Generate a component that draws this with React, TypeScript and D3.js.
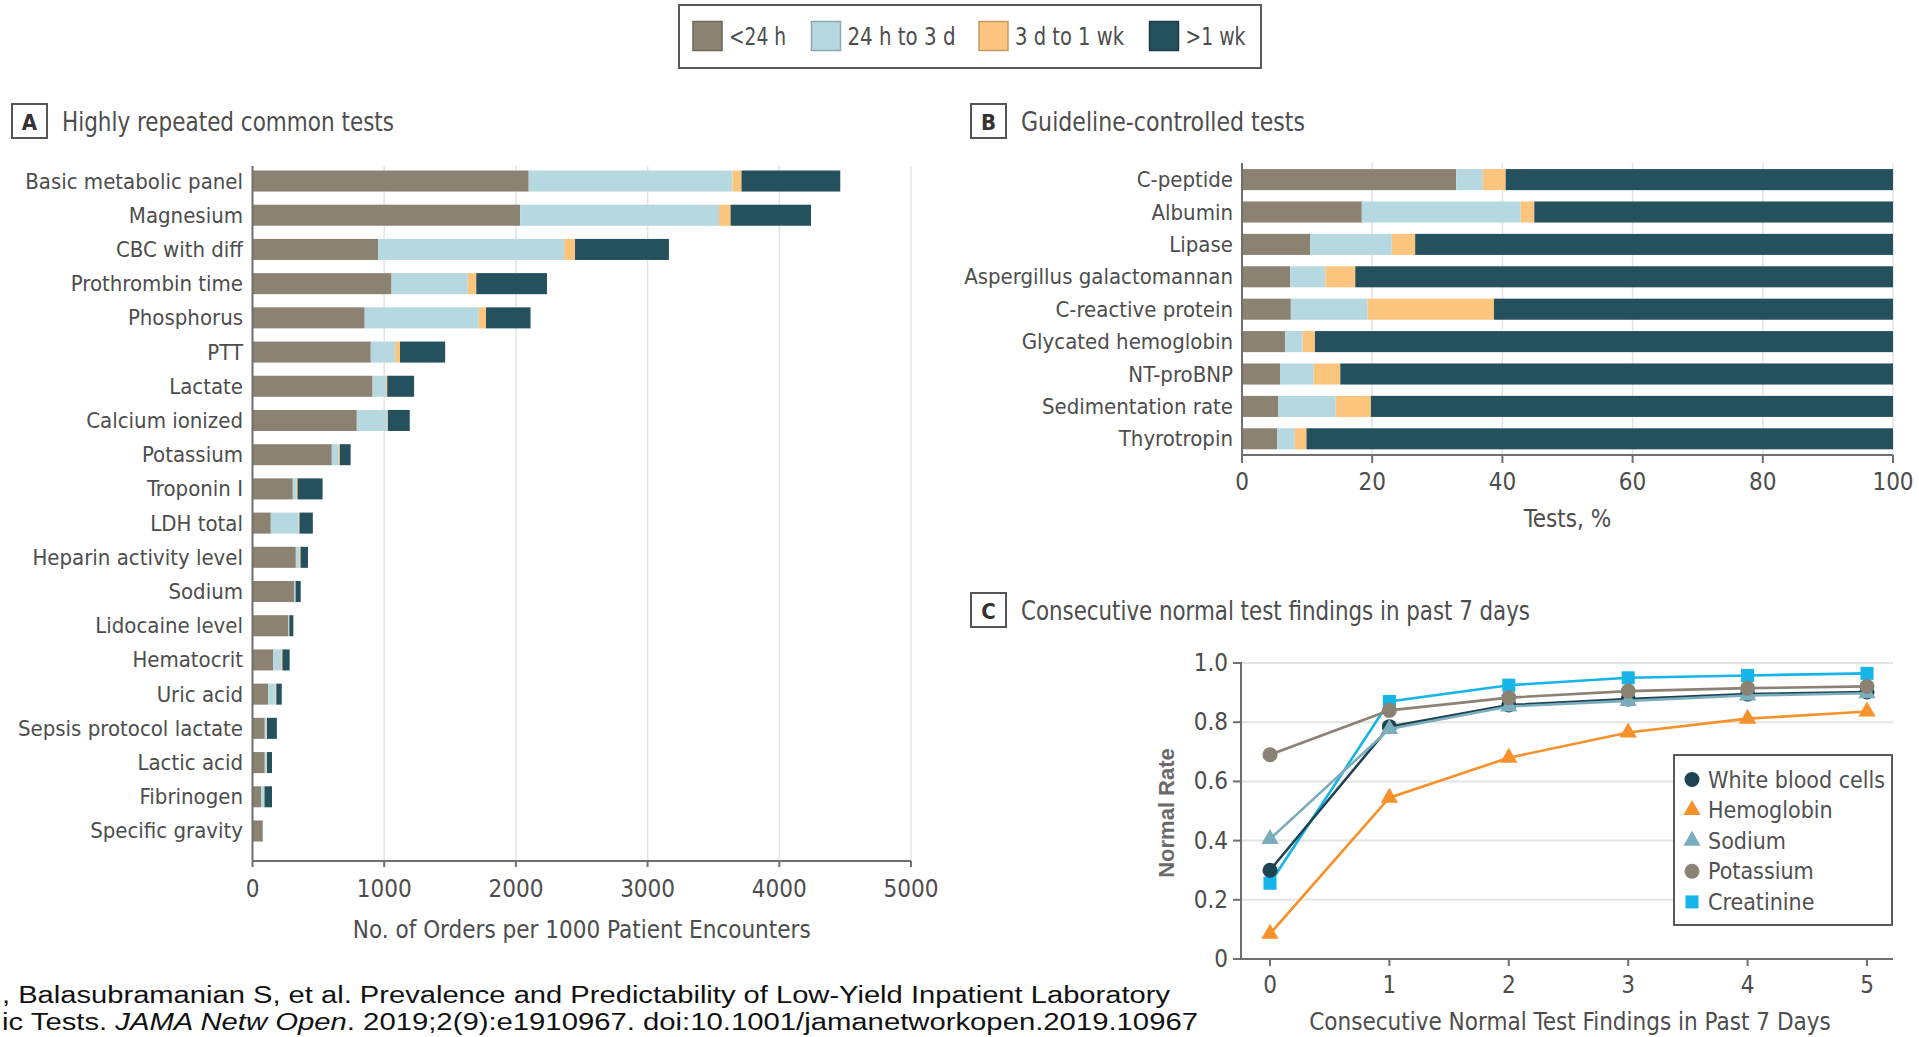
import React from 'react';
import * as d3 from 'd3';

// legend / stack keys
const durationKeys = ['<24 h', '24 h to 3 d', '3 d to 1 wk', '>1 wk'];
const durationColors = ['#8b8271', '#b6d8e0', '#fcc57e', '#25505e'];

// Panel A - orders per 1000 patient encounters, split by repeat interval
const commonTests = [
  'Basic metabolic panel', 'Magnesium', 'CBC with diff', 'Prothrombin time', 'Phosphorus',
  'PTT', 'Lactate', 'Calcium ionized', 'Potassium', 'Troponin I', 'LDH total',
  'Heparin activity level', 'Sodium', 'Lidocaine level', 'Hematocrit', 'Uric acid',
  'Sepsis protocol lactate', 'Lactic acid', 'Fibrinogen', 'Specific gravity',
];
const commonUnder24h = [2097, 2032, 954, 1056, 852, 898, 912, 792, 602, 306, 139, 329, 315, 273, 157, 120, 93, 93, 65, 76];
const common24hTo3d = [1547, 1510, 1412, 578, 866, 185, 102, 231, 51, 27, 213, 27, 9, 5, 61, 56, 14, 14, 23, 2];
const common3dTo1wk = [69, 88, 83, 65, 55, 37, 9, 5, 10, 9, 5, 9, 3, 2, 9, 5, 3, 3, 3, 0];
const commonOver1wk = [750, 611, 713, 537, 338, 343, 204, 166, 82, 190, 101, 56, 39, 30, 55, 41, 75, 38, 57, 2];
const commonTicks = [0, 1000, 2000, 3000, 4000, 5000];

// Panel B - share of tests (%)
const guidelineTests = [
  'C-peptide', 'Albumin', 'Lipase', 'Aspergillus galactomannan', 'C-reactive protein',
  'Glycated hemoglobin', 'NT-proBNP', 'Sedimentation rate', 'Thyrotropin',
];
const guideUnder24h = [32.9, 18.4, 10.5, 7.4, 7.5, 6.6, 5.9, 5.6, 5.4];
const guide24hTo3d = [4.1, 24.4, 12.5, 5.4, 11.8, 2.7, 5.1, 8.8, 2.7];
const guide3dTo1wk = [3.5, 2.1, 3.6, 4.6, 19.4, 1.9, 4.1, 5.4, 1.8];
const guideOver1wk = [59.5, 55.1, 73.4, 82.6, 61.3, 88.8, 84.9, 80.2, 90.1];
const guideTicks = [0, 20, 40, 60, 80, 100];

// Panel C - normal rate by consecutive normal findings
const consecutiveDays = [0, 1, 2, 3, 4, 5];
const wbcRate = [0.30, 0.785, 0.858, 0.878, 0.895, 0.902];
const hemoglobinRate = [0.085, 0.545, 0.68, 0.765, 0.812, 0.836];
const sodiumRate = [0.405, 0.777, 0.853, 0.872, 0.89, 0.898];
const potassiumRate = [0.69, 0.84, 0.883, 0.905, 0.915, 0.921];
const creatinineRate = [0.256, 0.87, 0.925, 0.95, 0.958, 0.965];
const rateTicks = [0, 0.2, 0.4, 0.6, 0.8, 1.0];

const FONT = "'Liberation Sans Narrow', 'DejaVu Sans Condensed', 'Roboto Condensed', sans-serif";
const TEXT = '#4d4d4d';
const AXIS = '#6f6f6f';
const GRID = '#e4e4e4';

const buildRows = (names: string[], cols: number[][]) =>
  names.map((name, i) => {
    const row: any = { name };
    durationKeys.forEach((k, j) => { row[k] = cols[j][i]; });
    return row;
  });

const commonRows = buildRows(commonTests, [commonUnder24h, common24hTo3d, common3dTo1wk, commonOver1wk]);
const guideRows = buildRows(guidelineTests, [guideUnder24h, guide24hTo3d, guide3dTo1wk, guideOver1wk]);
const stacker = d3.stack<any>().keys(durationKeys);

// the source font is narrower than anything installed, so long titles get squeezed to their width
const PanelTag = ({ x, y, letter, title, width }: { x: number; y: number; letter: string; title: string; width: number }) => (
  <g>
    <rect x={x} y={y} width={35} height={34} fill="#fff" stroke="#555" strokeWidth={2} />
    <text x={x + 17.5} y={y + 18} textAnchor="middle" dominantBaseline="central" fontSize={22} fontWeight="bold" fill="#333" fontFamily={FONT}>{letter}</text>
    <text x={x + 50} y={y + 17} dominantBaseline="central" fontSize={27} fill={TEXT} fontFamily={FONT}
      textLength={width} lengthAdjust="spacingAndGlyphs">{title}</text>
  </g>
);

const StackedBars = ({ rows, names, xScale, yScale, tickVals, axisY, gridTop, tickLen, labelX, tickLabelY, title, titleY }: any) => {
  const series = stacker(rows);
  const [x0, x1] = xScale.range();
  return (
    <g fontFamily={FONT}>
      {tickVals.slice(1).map((t: number) => (
        <line key={'g' + t} x1={xScale(t)} x2={xScale(t)} y1={gridTop} y2={axisY} stroke={GRID} strokeWidth={1.5} />
      ))}
      {series.map((s: any, si: number) => (
        <g key={s.key} fill={durationColors[si]}>
          {s.map((d: any, i: number) => (
            <rect key={i} x={xScale(d[0])} y={yScale(names[i])} width={Math.max(0, xScale(d[1]) - xScale(d[0]))} height={yScale.bandwidth()} />
          ))}
        </g>
      ))}
      <line x1={x0} x2={x0} y1={gridTop} y2={axisY} stroke={AXIS} strokeWidth={2} />
      <line x1={x0} x2={x1} y1={axisY} y2={axisY} stroke={AXIS} strokeWidth={2} />
      {tickVals.map((t: number) => (
        <g key={'t' + t}>
          <line x1={xScale(t)} x2={xScale(t)} y1={axisY} y2={axisY + tickLen} stroke={AXIS} strokeWidth={2} />
          <text x={xScale(t)} y={tickLabelY} textAnchor="middle" dominantBaseline="central" fontSize={24} fill={TEXT}>{t}</text>
        </g>
      ))}
      {names.map((n: string) => (
        <text key={n} x={labelX} y={yScale(n) + yScale.bandwidth() / 2} textAnchor="end" dominantBaseline="central" fontSize={22} fill={TEXT}>{n}</text>
      ))}
      <text x={(x0 + x1) / 2} y={titleY} textAnchor="middle" dominantBaseline="central" fontSize={24} fill={TEXT}>{title}</text>
    </g>
  );
};

const Marker = ({ shape, x, y, color }: any) => {
  if (shape === 'circle') return <circle cx={x} cy={y} r={7.5} fill={color} />;
  const sym = shape === 'triangle' ? d3.symbolTriangle : d3.symbolSquare;
  const size = shape === 'triangle' ? 130 : 170;
  return <path d={d3.symbol(sym, size)() as string} transform={`translate(${x},${y})`} fill={color} />;
};

const rateSeries = [
  { name: 'Creatinine', values: creatinineRate, color: '#15b4e9', shape: 'square' },
  { name: 'White blood cells', values: wbcRate, color: '#1e4454', shape: 'circle' },
  { name: 'Sodium', values: sodiumRate, color: '#7badbd', shape: 'triangle' },
  { name: 'Potassium', values: potassiumRate, color: '#8a8272', shape: 'circle' },
  { name: 'Hemoglobin', values: hemoglobinRate, color: '#f7912b', shape: 'triangle' },
];
const legendOrder = ['White blood cells', 'Hemoglobin', 'Sodium', 'Potassium', 'Creatinine'];

const App = () => {
  // panel A scales
  const xA = d3.scaleLinear().domain([0, 5000]).range([252.5, 911]);
  const yA = d3.scaleBand().domain(commonTests).range([164, 848]).paddingInner(0.385).paddingOuter(0.19);

  // panel B scales
  const xB = d3.scaleLinear().domain([0, 100]).range([1242, 1893]);
  const yB = d3.scaleBand().domain(guidelineTests).range([163.4, 455]).paddingInner(0.35).paddingOuter(0.175);

  // panel C scales
  const xC = d3.scaleLinear().domain([0, 5]).range([1270, 1867]);
  const yC = d3.scaleLinear().domain([0, 1]).range([959, 663]);
  const line = d3.line<number>().x((_, i) => xC(consecutiveDays[i])).y((d) => yC(d));

  const legendX = [693, 811.5, 979, 1149.5];
  const legendTextW = [57, 108, 109, 60];

  return (
    <svg width={1919} height={1037} style={{ position: 'absolute', left: 0, top: 0, display: 'block', background: '#fff' }}>
      <rect width={1919} height={1037} fill="#fff" />

      {/* top legend */}
      <g fontFamily={FONT}>
        <rect x={679} y={5} width={582} height={63} fill="#fff" stroke="#5a5a5a" strokeWidth={2} />
        {durationKeys.map((k, i) => (
          <g key={k}>
            <rect x={legendX[i]} y={21.5} width={29} height={29} fill={durationColors[i]} stroke={d3.color(durationColors[i])!.darker(0.7).toString()} strokeWidth={1.5} />
            <text x={legendX[i] + 36} y={37} dominantBaseline="central" fontSize={24} fill={TEXT}
              textLength={legendTextW[i]} lengthAdjust="spacingAndGlyphs">{k}</text>
          </g>
        ))}
      </g>

      <PanelTag x={12} y={104} letter="A" title="Highly repeated common tests" width={332} />
      <PanelTag x={971} y={104} letter="B" title="Guideline-controlled tests" width={284} />
      <PanelTag x={971} y={593} letter="C" title="Consecutive normal test findings in past 7 days" width={509} />

      <StackedBars rows={commonRows} names={commonTests} xScale={xA} yScale={yA} tickVals={commonTicks}
        axisY={861} gridTop={166} tickLen={6} labelX={243} tickLabelY={889}
        title="No. of Orders per 1000 Patient Encounters" titleY={930} />

      <StackedBars rows={guideRows} names={guidelineTests} xScale={xB} yScale={yB} tickVals={guideTicks}
        axisY={455} gridTop={163} tickLen={8} labelX={1233} tickLabelY={482}
        title="Tests, %" titleY={519} />

      {/* panel C */}
      <g fontFamily={FONT}>
        {rateTicks.slice(1).map((t) => (
          <line key={t} x1={1241} x2={1893} y1={yC(t)} y2={yC(t)} stroke={GRID} strokeWidth={2} />
        ))}
        <line x1={1241} x2={1241} y1={662} y2={959} stroke={AXIS} strokeWidth={2} />
        <line x1={1241} x2={1893} y1={959} y2={959} stroke={AXIS} strokeWidth={2} />
        {rateTicks.map((t) => (
          <g key={'y' + t}>
            <line x1={1233} x2={1241} y1={yC(t)} y2={yC(t)} stroke={AXIS} strokeWidth={2} />
            <text x={1228} y={yC(t)} textAnchor="end" dominantBaseline="central" fontSize={24} fill={TEXT}>{t === 0 ? '0' : t.toFixed(1)}</text>
          </g>
        ))}
        {consecutiveDays.map((d) => (
          <g key={'x' + d}>
            <line x1={xC(d)} x2={xC(d)} y1={959} y2={966} stroke={AXIS} strokeWidth={2} />
            <text x={xC(d)} y={985} textAnchor="middle" dominantBaseline="central" fontSize={24} fill={TEXT}>{d}</text>
          </g>
        ))}
        <text x={1570} y={1022} textAnchor="middle" dominantBaseline="central" fontSize={24} fill={TEXT}>Consecutive Normal Test Findings in Past 7 Days</text>
        <text transform="translate(1166,813) rotate(-90)" textAnchor="middle" dominantBaseline="central" fontSize={22} fontWeight="bold" fill="#6a6a6a" fontFamily="'Liberation Sans', Arial, sans-serif">Normal Rate</text>

        {rateSeries.map((s) => (
          <g key={s.name}>
            <path d={line(s.values) as string} fill="none" stroke={s.color} strokeWidth={2.6} />
            {s.values.map((v, i) => (
              <Marker key={i} shape={s.shape} x={xC(consecutiveDays[i])} y={yC(v)} color={s.color} />
            ))}
          </g>
        ))}

        <rect x={1674} y={755} width={218} height={170} fill="#fff" stroke="#5a5a5a" strokeWidth={2} />
        {legendOrder.map((name, i) => {
          const s = rateSeries.find((r) => r.name === name)!;
          const cy = 779.5 + i * 30.6;
          return (
            <g key={name}>
              <Marker shape={s.shape} x={1692} y={cy} color={s.color} />
              <text x={1708} y={cy} dominantBaseline="central" fontSize={23} fill="#505050">{name}</text>
            </g>
          );
        })}
      </g>

      {/* citation, cropped at the left as in the source image */}
      <g fontFamily="'Liberation Sans', Arial, sans-serif" fontSize={23.5} fill="#111">
        <text x={2} y={1003} textLength={1168} lengthAdjust="spacingAndGlyphs">, Balasubramanian S, et al. Prevalence and Predictability of Low-Yield Inpatient Laboratory</text>
        <text x={2} y={1030} textLength={1196} lengthAdjust="spacingAndGlyphs">ic Tests. <tspan fontStyle="italic">JAMA Netw Open</tspan>. 2019;2(9):e1910967. doi:10.1001/jamanetworkopen.2019.10967</text>
      </g>
    </svg>
  );
};

export default App;
